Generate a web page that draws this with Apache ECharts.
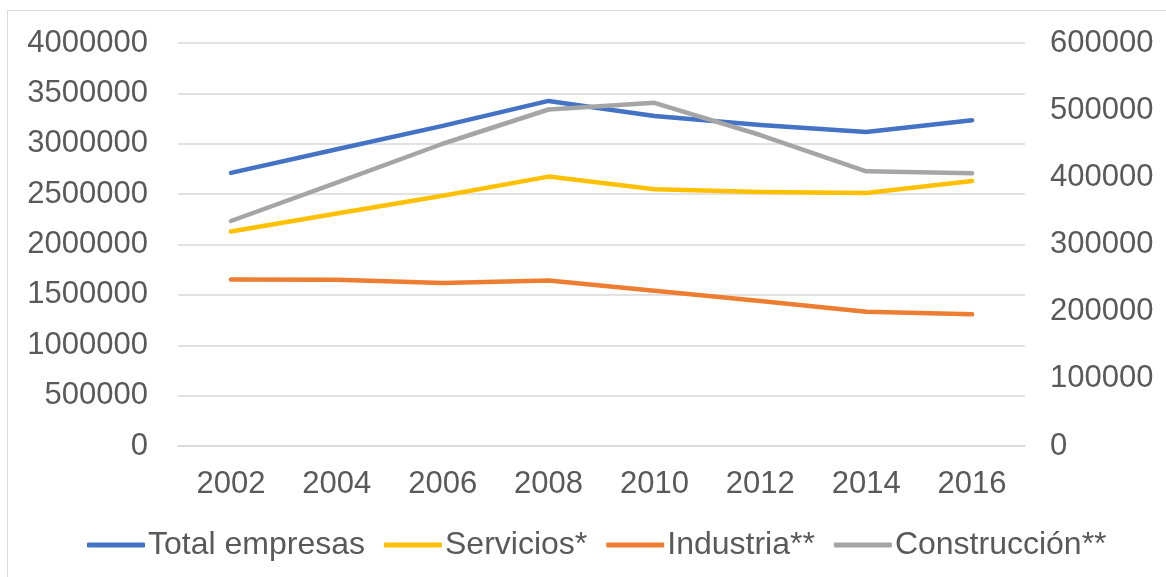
<!DOCTYPE html>
<html>
<head>
<meta charset="utf-8">
<script src="https://cdn.jsdelivr.net/npm/echarts@6/dist/echarts.min.js"></script>
<style>
html,body{margin:0;padding:0;background:#fff;}
#frame{position:absolute;left:7px;top:10px;width:1170px;height:580px;border:1px solid #d9d9d9;box-sizing:border-box;}
#chart{position:absolute;left:0;top:0;width:1166px;height:577px;}
</style>
</head>
<body>
<div id="frame"></div>
<div id="chart"></div>
<script>
const categories = ['2002','2004','2006','2008','2010','2012','2014','2016'];
const totalEmpresas = [2711000, 2945000, 3177000, 3425000, 3276000, 3187000, 3117000, 3233000];
const servicios = [2129000, 2307000, 2483000, 2674000, 2549000, 2522000, 2512000, 2631000];
const industria = [248000, 247500, 242500, 246500, 231000, 216000, 200000, 196000];
const construccion = [335000, 392000, 450000, 501000, 511000, 463000, 409000, 406000];
const seriesNames = ['Total empresas', 'Servicios*', 'Industria**', 'Construcción**'];
const leftTicks = { min: 0, max: 4000000, interval: 500000 };
const rightTicks = { min: 0, max: 600000, interval: 100000 };

const chart = echarts.init(document.getElementById('chart'));
const font = 'Liberation Sans, Arial, sans-serif';
const labelColor = '#595959';
const colors = ['#4472C4', '#FFC000', '#ED7D31', '#A5A5A5'];
const datasets = [totalEmpresas, servicios, industria, construccion];
const axisIdx = [0, 0, 1, 1];
const FS = 31;

chart.setOption({
  animation: false,
  color: colors,
  textStyle: { fontFamily: font },
  grid: { left: 178, right: 141, top: 43, bottom: 131 },
  legend: {
    data: seriesNames.map(n => ({ name: n, icon: 'roundRect' })),
    bottom: 11,
    left: 82,
    itemWidth: 58,
    itemHeight: 5,
    itemGap: 19,
    textStyle: { fontSize: 32, color: labelColor, fontFamily: font, padding: [0, 0, 0, -2] }
  },
  xAxis: {
    type: 'category',
    data: categories,
    boundaryGap: true,
    axisLine: { show: true, lineStyle: { color: '#d9d9d9', width: 1.5 } },
    axisTick: { show: false },
    axisLabel: { fontSize: FS, color: labelColor, margin: 23, fontFamily: font },
    splitLine: { show: false }
  },
  yAxis: [
    {
      type: 'value',
      min: leftTicks.min, max: leftTicks.max, interval: leftTicks.interval,
      axisLine: { show: false }, axisTick: { show: false },
      axisLabel: { fontSize: FS, color: labelColor, margin: 30, fontFamily: font, formatter: v => String(v) },
      splitLine: { lineStyle: { color: '#d9d9d9', width: 1.5 } }
    },
    {
      type: 'value',
      position: 'right',
      min: rightTicks.min, max: rightTicks.max, interval: rightTicks.interval,
      axisLine: { show: false }, axisTick: { show: false },
      axisLabel: { fontSize: FS, color: labelColor, margin: 25, fontFamily: font, formatter: v => String(v) },
      splitLine: { show: false }
    }
  ],
  series: seriesNames.map((name, i) => ({
    name: name,
    type: 'line',
    yAxisIndex: axisIdx[i],
    data: datasets[i],
    symbol: 'none',
    lineStyle: { width: 4.5, color: colors[i], cap: 'round', join: 'round' },
    itemStyle: { color: colors[i] }
  }))
});
</script>
</body>
</html>
